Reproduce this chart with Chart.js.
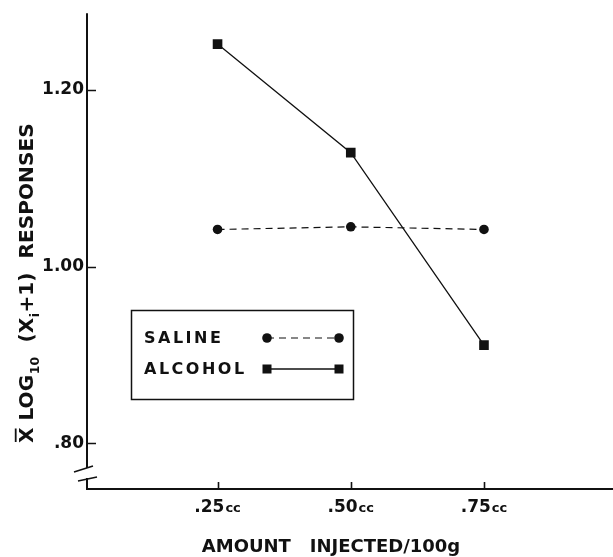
<!DOCTYPE html>
<html>
<head>
<meta charset="utf-8">
<script src="https://cdn.jsdelivr.net/npm/chart.js@4/dist/chart.umd.min.js"></script>
<style>
  html, body { margin: 0; padding: 0; background: #fff; overflow: hidden; }
  #wrap { width: 613px; height: 557px; overflow: hidden; }
  canvas { display: block; }
</style>
</head>
<body>
<div id="wrap"><canvas id="c" width="616" height="557"></canvas></div>
<script>
// ---- data ----
const doses = [0.25, 0.50, 0.75];
const doseLabels = ['.25', '.50', '.75'];
const doseUnit = 'cc';
const salineValues = [1.042, 1.045, 1.042];
const alcoholValues = [1.252, 1.129, 0.911];
const yTickValues = [0.80, 1.00, 1.20];
const yTickLabels = ['.80', '1.00', '1.20'];
const seriesNames = ['SALINE', 'ALCOHOL'];
const xTitle = 'AMOUNT   INJECTED/100g';

const INK = '#111';
const FONT = '"DejaVu Sans", sans-serif';

const decor = {
  id: 'decor',
  afterDraw(chart) {
    const ctx = chart.ctx;
    const { left, top, bottom } = chart.chartArea;
    const xs = chart.scales.x, ys = chart.scales.y;
    ctx.save();
    ctx.strokeStyle = INK;
    ctx.fillStyle = INK;
    ctx.lineCap = 'butt';

    // axes with break on y axis
    ctx.lineWidth = 2;
    ctx.beginPath();
    ctx.moveTo(left, top); ctx.lineTo(left, bottom - 21);
    ctx.moveTo(left, bottom - 11); ctx.lineTo(left, bottom + 1);
    ctx.moveTo(left - 1, bottom); ctx.lineTo(chart.width, bottom);
    ctx.stroke();
    ctx.lineWidth = 1.6;
    ctx.beginPath();
    ctx.moveTo(left - 13, bottom - 17); ctx.lineTo(left + 6, bottom - 23);
    ctx.moveTo(left - 9, bottom - 8); ctx.lineTo(left + 10, bottom - 12);
    ctx.stroke();

    // ticks (inside)
    ctx.lineWidth = 1.6;
    ctx.beginPath();
    yTickValues.forEach(v => {
      const p = Math.round(ys.getPixelForValue(v)) + 0.5;
      ctx.moveTo(left, p); ctx.lineTo(left + 9, p);
    });
    doses.forEach(v => {
      const p = Math.round(xs.getPixelForValue(v)) + 0.5;
      ctx.moveTo(p, bottom); ctx.lineTo(p, bottom - 7);
    });
    ctx.stroke();

    // x tick labels
    ctx.textBaseline = 'alphabetic';
    ctx.textAlign = 'left';
    doses.forEach((v, i) => {
      const px = xs.getPixelForValue(v);
      ctx.font = 'bold 17px ' + FONT;
      const w1 = ctx.measureText(doseLabels[i]).width;
      ctx.font = 'bold 13px ' + FONT;
      const w2 = ctx.measureText(doseUnit).width;
      const x0 = px - (w1 + w2 + 1) / 2;
      ctx.font = 'bold 17px ' + FONT;
      ctx.fillText(doseLabels[i], x0, bottom + 23);
      ctx.font = 'bold 13px ' + FONT;
      ctx.fillText(doseUnit, x0 + w1 + 1, bottom + 23);
    });

    // x title
    ctx.font = 'bold 18px ' + FONT;
    ctx.textAlign = 'center';
    ctx.fillText(xTitle, 331, 552);

    // y title (rotated)
    const segs = [
      { t: 'X', bar: true }, { t: ' LOG' }, { t: '10', sub: true },
      { t: '  (X' }, { t: 'i', sub: true }, { t: '+1)  RESPONSES' }
    ];
    const measure = (size) => {
      let w = 0;
      segs.forEach(s => {
        ctx.font = 'bold ' + (s.sub ? size * 0.62 : size) + 'px ' + FONT;
        w += ctx.measureText(s.t).width + (s.sub ? 1 : 0);
      });
      return w;
    };
    const targetLen = 320;
    const base = 18;
    const size = base * targetLen / measure(base);
    ctx.save();
    ctx.translate(33, 443);
    ctx.rotate(-Math.PI / 2);
    ctx.textAlign = 'left';
    let cx = 0;
    segs.forEach(s => {
      const fs = s.sub ? size * 0.62 : size;
      ctx.font = 'bold ' + fs + 'px ' + FONT;
      const w = ctx.measureText(s.t).width;
      ctx.fillText(s.t, cx + (s.sub ? 0.5 : 0), s.sub ? size * 0.28 : 0);
      if (s.bar) {
        ctx.lineWidth = 1.8;
        ctx.beginPath();
        ctx.moveTo(cx + 1, -size * 0.86);
        ctx.lineTo(cx + w - 1, -size * 0.86);
        ctx.stroke();
      }
      cx += w + (s.sub ? 1 : 0);
    });
    ctx.restore();

    // legend
    ctx.lineWidth = 1.5;
    ctx.strokeRect(131.5, 310.5, 222, 89);
    ctx.font = 'bold 16px ' + FONT;
    ctx.textAlign = 'left';
    ctx.textBaseline = 'middle';
    if ('letterSpacing' in ctx) ctx.letterSpacing = '2.5px';
    const rows = [338, 369];
    chart.data.datasets.forEach((ds, i) => {
      const yy = rows[i];
      ctx.fillText(ds.label, 144, yy + 1);
      ctx.lineWidth = ds.borderWidth;
      ctx.setLineDash(ds.borderDash || []);
      ctx.beginPath();
      ctx.moveTo(267, yy); ctx.lineTo(339, yy);
      ctx.stroke();
      ctx.setLineDash([]);
      [267, 339].forEach(mx => {
        if (ds.pointStyle === 'rect') {
          ctx.fillRect(mx - 4.5, yy - 4.5, 9, 9);
        } else {
          ctx.beginPath(); ctx.arc(mx, yy, 4.8, 0, Math.PI * 2); ctx.fill();
        }
      });
    });
    if ('letterSpacing' in ctx) ctx.letterSpacing = '0px';
    ctx.restore();
  }
};

new Chart(document.getElementById('c'), {
  type: 'line',
  data: {
    datasets: [
      {
        label: seriesNames[0],
        data: doses.map((d, i) => ({ x: d, y: salineValues[i] })),
        borderColor: INK, backgroundColor: INK,
        borderWidth: 1.2, borderDash: [7, 5],
        pointStyle: 'circle', pointRadius: 4.8, pointHoverRadius: 4.8,
        pointBackgroundColor: INK, pointBorderWidth: 0, tension: 0
      },
      {
        label: seriesNames[1],
        data: doses.map((d, i) => ({ x: d, y: alcoholValues[i] })),
        borderColor: INK, backgroundColor: INK,
        borderWidth: 1.3,
        pointStyle: 'rect', pointRadius: 6.8, pointHoverRadius: 6.8,
        pointBackgroundColor: INK, pointBorderWidth: 0, tension: 0
      }
    ]
  },
  options: {
    responsive: false,
    animation: false,
    devicePixelRatio: 1,
    layout: { padding: { top: 13, right: 0, left: 0, bottom: 0 } },
    plugins: { legend: { display: false }, tooltip: { enabled: false } },
    scales: {
      x: {
        type: 'linear', min: 0.005, max: 0.985,
        grid: { display: false }, border: { display: false },
        ticks: { display: false },
        afterFit(s) { s.height = 68; }
      },
      y: {
        type: 'linear', min: 0.748, max: 1.287,
        grid: { display: false, drawTicks: false }, border: { display: false },
        afterBuildTicks(s) { s.ticks = yTickValues.map(v => ({ value: v })); },
        ticks: {
          padding: 3,
          color: INK,
          font: { family: FONT, size: 17, weight: 'bold' },
          callback(v) {
            const i = yTickValues.findIndex(t => Math.abs(t - v) < 1e-6);
            return i >= 0 ? yTickLabels[i] : '';
          }
        },
        afterFit(s) { s.width = 87; }
      }
    }
  },
  plugins: [decor]
});
</script>
</body>
</html>
